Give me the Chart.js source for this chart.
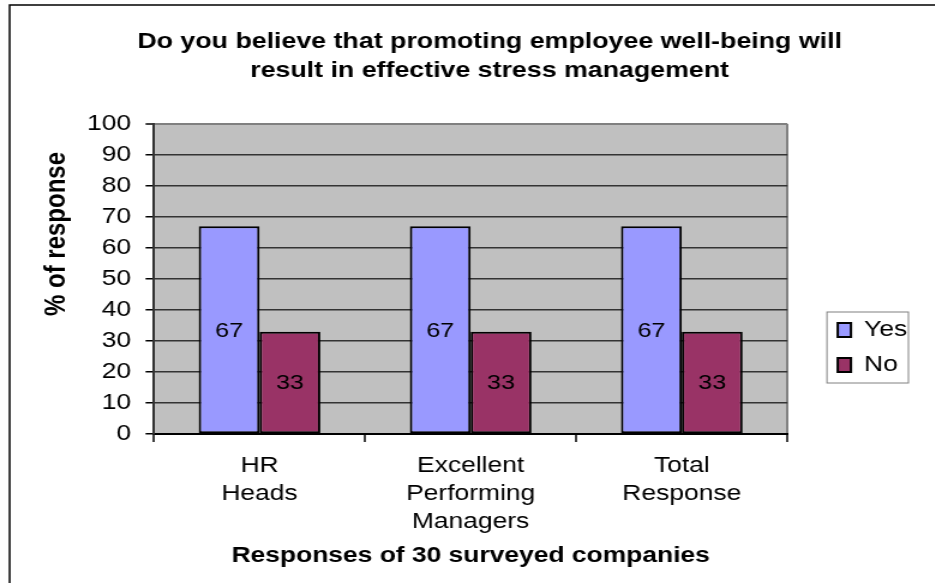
<!DOCTYPE html>
<html lang="en">
<head>
<meta charset="utf-8">
<title>Employee well-being and stress management</title>
<script src="https://cdn.jsdelivr.net/npm/chart.js@4.4.0/dist/chart.umd.min.js"></script>
<style>
  html, body { margin: 0; padding: 0; background: #fff; overflow: hidden; }
  #lienzo { display: block; }
</style>
</head>
<body>
<!-- el lienzo se estira en horizontal (800 -> 960); el estilo va en línea para que Chart.js no lo reemplace -->
<canvas id="lienzo" width="800" height="600" style="width:960px;height:600px"></canvas>
<script>
// Datos de la encuesta
const categorias = [['HR', 'Heads'], ['Excellent', 'Performing', 'Managers'], ['Total', 'Response']];
const series = ['Yes', 'No'];
const valoresSi = [67, 67, 67];
const valoresNo = [33, 33, 33];
const marcasY = [0, 10, 20, 30, 40, 50, 60, 70, 80, 90, 100];

const tituloLineas = ['Do you believe that promoting employee well-being will', 'result in effective stress management'];
const tituloEjeY = '% of response';
const tituloEjeX = 'Responses of 30 surveyed companies';

const FUENTE = "'Liberation Sans', Arial, sans-serif";

/* ========= PLUGINS ========= */

// Fondo gris del área de trazado y marco exterior
const fondoPlugin = {
  id: 'fondo',
  beforeDraw(chart) {
    const { ctx, chartArea: a } = chart;
    ctx.save();
    ctx.fillStyle = '#fff';
    ctx.fillRect(0, 0, chart.width, chart.height);
    ctx.fillStyle = '#c0c0c0';
    ctx.fillRect(a.left, a.top, a.right - a.left, a.bottom - a.top);
    ctx.strokeStyle = '#000';
    ctx.lineWidth = 1.5;
    ctx.strokeRect(8, 5, chart.width + 10, chart.height + 10);
    ctx.restore();
  }
};

// Valor de cada barra, centrado dentro de ella
const valoresPlugin = {
  id: 'valores',
  afterDatasetsDraw(chart) {
    const { ctx } = chart;
    ctx.save();
    ctx.fillStyle = '#000';
    ctx.font = `21px ${FUENTE}`;
    ctx.textAlign = 'center';
    ctx.textBaseline = 'middle';
    chart.data.datasets.forEach((ds, i) => {
      chart.getDatasetMeta(i).data.forEach((barra, j) => {
        ctx.fillText(ds.data[j], barra.x, (barra.y + barra.base) / 2 + 1);
      });
    });
    ctx.restore();
  }
};

// Título principal, título del eje Y y marco de la leyenda
const textosPlugin = {
  id: 'textos',
  afterDraw(chart) {
    const { ctx } = chart;
    ctx.save();
    ctx.fillStyle = '#000';
    ctx.textAlign = 'center';
    ctx.textBaseline = 'alphabetic';
    ctx.font = `bold 22.3px ${FUENTE}`;
    ctx.fillText(tituloLineas[0], 408, 48);
    ctx.fillText(tituloLineas[1], 408, 77);

    ctx.save();
    ctx.translate(47, 234);
    ctx.rotate(-Math.PI / 2);
    ctx.font = `bold 24px ${FUENTE}`;
    ctx.textBaseline = 'middle';
    ctx.fillText(tituloEjeY, 0, 0);
    ctx.restore();

    const cajas = chart.legend && chart.legend.legendHitBoxes;
    if (cajas && cajas.length) {
      const izq = Math.min(...cajas.map(c => c.left)) - 9;
      const der = Math.max(...cajas.map(c => c.left + c.width)) + 1;
      const arr = cajas[0].top - 7;
      const ult = cajas[cajas.length - 1];
      const aba = ult.top + ult.height + 7;
      ctx.strokeStyle = '#808080';
      ctx.lineWidth = 1;
      ctx.strokeRect(izq, arr, der - izq, aba - arr);
    }
    ctx.restore();
  }
};

/* ========= GRÁFICO ========= */

new Chart(document.getElementById('lienzo'), {
  type: 'bar',
  data: {
    labels: categorias,
    datasets: [
      { label: series[0], data: valoresSi, backgroundColor: '#9999ff' },
      { label: series[1], data: valoresNo, backgroundColor: '#993366' }
    ].map(ds => Object.assign(ds, {
      borderColor: '#000',
      borderWidth: 2,
      borderSkipped: false,
      categoryPercentage: 0.576,
      barPercentage: 1,
      yAxisID: 'y'
    }))
  },
  options: {
    responsive: false,
    animation: false,
    devicePixelRatio: 1,
    layout: { padding: { left: 8, top: 124, right: 34, bottom: 29 } },
    plugins: {
      title: { display: false },
      tooltip: { enabled: false },
      legend: {
        position: 'right',
        align: 'center',
        labels: {
          boxWidth: 11,
          boxHeight: 14,
          padding: 13,
          color: '#000',
          font: { family: FUENTE, size: 22 }
        }
      }
    },
    scales: {
      x: {
        grid: {
          offset: true,
          // solo la última línea (borde derecho) se ve dentro del área
          color: c => c.type === 'scale' ? '#808080' : 'rgba(0,0,0,0)',
          lineWidth: 2,
          tickLength: 8,
          tickColor: '#000',
          tickWidth: 1.5
        },
        border: { color: '#000', width: 2 },
        ticks: {
          color: '#000',
          padding: 10,
          maxRotation: 0,
          autoSkip: false,
          font: { family: FUENTE, size: 22, lineHeight: 1.27 }
        },
        title: {
          display: true,
          text: tituloEjeX,
          color: '#000',
          padding: { top: 0, bottom: 2 },
          font: { family: FUENTE, size: 22, weight: 'bold', lineHeight: 1.2 }
        },
        afterFit(s) { s.height = 137; }
      },
      y: {
        min: 0,
        max: 100,
        afterBuildTicks(s) { s.ticks = marcasY.map(v => ({ value: v })); },
        grid: {
          color: c => c.tick && c.tick.value === 100 ? '#808080' : '#333',
          lineWidth: c => c.tick && c.tick.value === 100 ? 2 : 1.5,
          tickLength: 7,
          tickColor: '#000',
          tickWidth: 1.5
        },
        border: { color: '#333', width: 2 },
        ticks: { color: '#000', padding: 12, font: { family: FUENTE, size: 22 } },
        afterFit(s) { s.width = 120.3; }
      },
      // separación entre el área de trazado y la leyenda
      hueco: {
        type: 'linear',
        position: 'right',
        display: true,
        grid: { display: false },
        border: { display: false },
        ticks: { display: false },
        afterFit(s) { s.width = 29; }
      }
    }
  },
  plugins: [fondoPlugin, valoresPlugin, textosPlugin]
});
</script>
</body>
</html>
